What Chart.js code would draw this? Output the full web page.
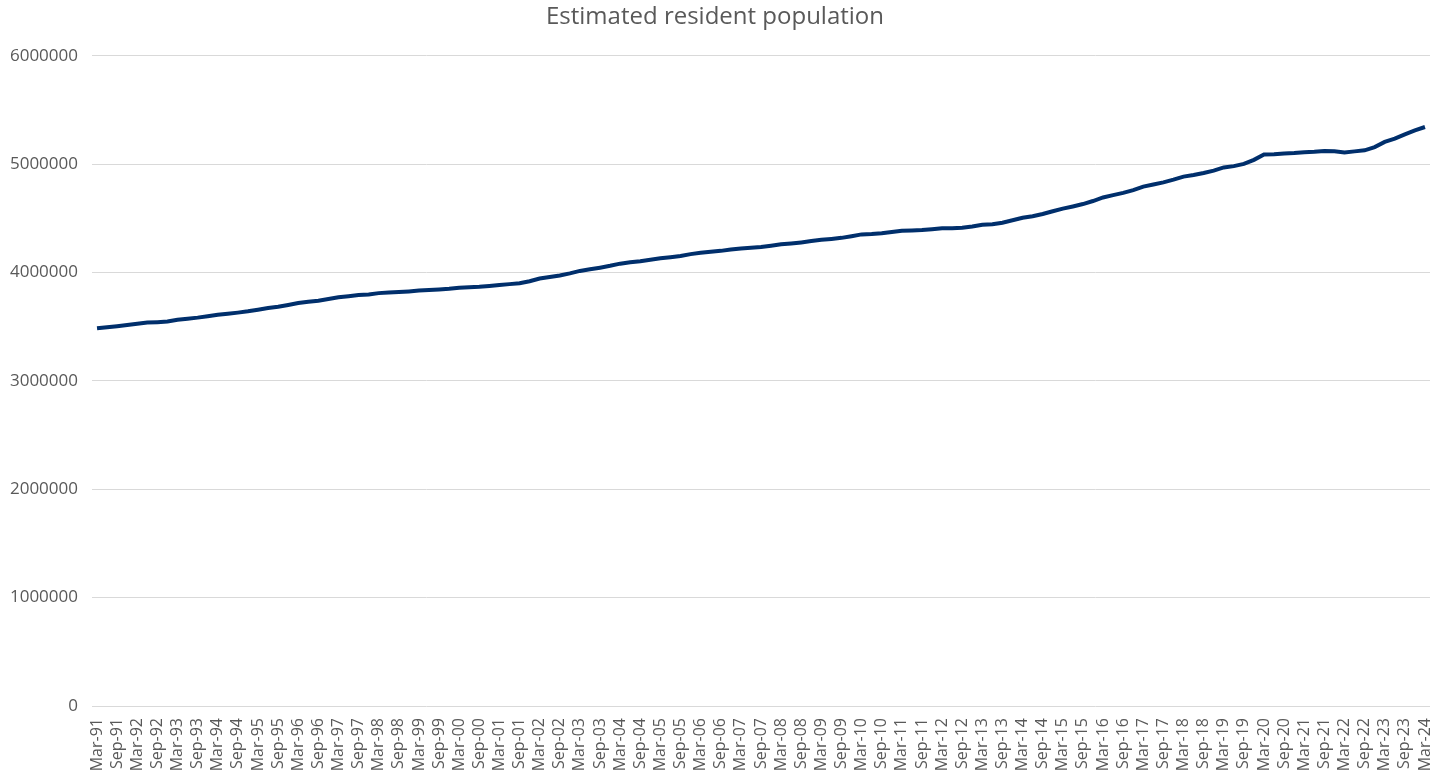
<!DOCTYPE html>
<html>
<head>
<meta charset="utf-8">
<title>Estimated resident population</title>
<script src="https://cdn.jsdelivr.net/npm/chart.js@4/dist/chart.umd.min.js"></script>
<style>
  html, body { margin: 0; padding: 0; background: #fff; }
  #wrap { width: 1431px; height: 776px; }
</style>
</head>
<body>
<div id="wrap"><canvas id="popChart"></canvas></div>
<script>
// quarterly categories, Mar-91 .. Mar-24
const quarterLabels = [
  "Mar-91", "Jun-91", "Sep-91", "Dec-91",
  "Mar-92", "Jun-92", "Sep-92", "Dec-92",
  "Mar-93", "Jun-93", "Sep-93", "Dec-93",
  "Mar-94", "Jun-94", "Sep-94", "Dec-94",
  "Mar-95", "Jun-95", "Sep-95", "Dec-95",
  "Mar-96", "Jun-96", "Sep-96", "Dec-96",
  "Mar-97", "Jun-97", "Sep-97", "Dec-97",
  "Mar-98", "Jun-98", "Sep-98", "Dec-98",
  "Mar-99", "Jun-99", "Sep-99", "Dec-99",
  "Mar-00", "Jun-00", "Sep-00", "Dec-00",
  "Mar-01", "Jun-01", "Sep-01", "Dec-01",
  "Mar-02", "Jun-02", "Sep-02", "Dec-02",
  "Mar-03", "Jun-03", "Sep-03", "Dec-03",
  "Mar-04", "Jun-04", "Sep-04", "Dec-04",
  "Mar-05", "Jun-05", "Sep-05", "Dec-05",
  "Mar-06", "Jun-06", "Sep-06", "Dec-06",
  "Mar-07", "Jun-07", "Sep-07", "Dec-07",
  "Mar-08", "Jun-08", "Sep-08", "Dec-08",
  "Mar-09", "Jun-09", "Sep-09", "Dec-09",
  "Mar-10", "Jun-10", "Sep-10", "Dec-10",
  "Mar-11", "Jun-11", "Sep-11", "Dec-11",
  "Mar-12", "Jun-12", "Sep-12", "Dec-12",
  "Mar-13", "Jun-13", "Sep-13", "Dec-13",
  "Mar-14", "Jun-14", "Sep-14", "Dec-14",
  "Mar-15", "Jun-15", "Sep-15", "Dec-15",
  "Mar-16", "Jun-16", "Sep-16", "Dec-16",
  "Mar-17", "Jun-17", "Sep-17", "Dec-17",
  "Mar-18", "Jun-18", "Sep-18", "Dec-18",
  "Mar-19", "Jun-19", "Sep-19", "Dec-19",
  "Mar-20", "Jun-20", "Sep-20", "Dec-20",
  "Mar-21", "Jun-21", "Sep-21", "Dec-21",
  "Mar-22", "Jun-22", "Sep-22", "Dec-22",
  "Mar-23", "Jun-23", "Sep-23", "Dec-23",
  "Mar-24"
];

// estimated resident population
const populationValues = [
  3485000, 3495000, 3505000, 3516000,
  3527000, 3538000, 3542000, 3548000,
  3565000, 3574000, 3584000, 3597000,
  3610000, 3620000, 3630000, 3642000,
  3657000, 3672000, 3684000, 3700000,
  3718000, 3730000, 3740000, 3755000,
  3772000, 3782000, 3792000, 3798000,
  3810000, 3815000, 3820000, 3826000,
  3834000, 3838000, 3843000, 3850000,
  3860000, 3864000, 3868000, 3876000,
  3886000, 3893000, 3902000, 3920000,
  3945000, 3958000, 3972000, 3992000,
  4015000, 4030000, 4045000, 4062000,
  4082000, 4095000, 4105000, 4118000,
  4132000, 4142000, 4152000, 4170000,
  4182000, 4192000, 4200000, 4212000,
  4222000, 4228000, 4236000, 4248000,
  4260000, 4268000, 4278000, 4290000,
  4302000, 4310000, 4320000, 4335000,
  4352000, 4355000, 4362000, 4374000,
  4386000, 4388000, 4392000, 4400000,
  4408000, 4409000, 4413000, 4425000,
  4440000, 4446000, 4460000, 4482000,
  4505000, 4520000, 4540000, 4565000,
  4590000, 4610000, 4632000, 4660000,
  4693000, 4714000, 4735000, 4760000,
  4793000, 4813000, 4832000, 4857000,
  4885000, 4900000, 4918000, 4940000,
  4970000, 4982000, 5002000, 5040000,
  5090000, 5092000, 5099000, 5102000,
  5110000, 5114000, 5122000, 5120000,
  5108000, 5118000, 5128000, 5158000,
  5205000, 5235000, 5275000, 5312000,
  5343000
];

const yTicks = [0, 1000000, 2000000, 3000000, 4000000, 5000000, 6000000];

const textGrey = "#595959";
const lineNavy = "#002F6C";
const fontName = "'Open Sans', 'Noto Sans', sans-serif";

const ctx = document.getElementById("popChart").getContext("2d");

new Chart(ctx, {
  type: "line",
  data: {
    labels: quarterLabels,
    datasets: [{
      label: "Estimated resident population",
      data: populationValues,
      borderColor: lineNavy,
      borderWidth: 4,
      pointRadius: 0,
      tension: 0,
      fill: false
    }]
  },
  options: {
    responsive: true,
    maintainAspectRatio: false,
    animation: false,
    layout: { padding: { left: 0, right: 1, top: 0, bottom: 0 } },
    plugins: {
      legend: { display: false },
      tooltip: { enabled: false },
      title: {
        display: true,
        text: "Estimated resident population",
        color: textGrey,
        font: { family: fontName, size: 24, weight: "normal" },
        padding: { top: 3, bottom: 24 }
      }
    },
    scales: {
      x: {
        offset: true,
        grid: { display: false },
        border: { display: false },
        ticks: {
          autoSkip: false,
          minRotation: 90,
          maxRotation: 90,
          padding: 4,
          color: textGrey,
          font: { family: fontName, size: 16 },
          callback: (val, i) => (i % 2 === 0 ? quarterLabels[i] : null)
        },
        afterFit: scale => {
          scale.height = 70;
          scale.paddingLeft = 0;
          scale.paddingRight = 0;
        }
      },
      y: {
        min: yTicks[0],
        max: yTicks[yTicks.length - 1],
        afterBuildTicks: scale => {
          scale.ticks = yTicks.map(v => ({ value: v }));
        },
        grid: { color: "#d9d9d9", lineWidth: 1, drawTicks: false },
        border: { display: false },
        ticks: {
          color: textGrey,
          padding: 14,
          font: { family: fontName, size: 17 },
          callback: v => String(v)
        },
        afterFit: scale => {
          scale.width = 92;
          scale.paddingTop = 0;
        }
      }
    }
  }
});
</script>
</body>
</html>
